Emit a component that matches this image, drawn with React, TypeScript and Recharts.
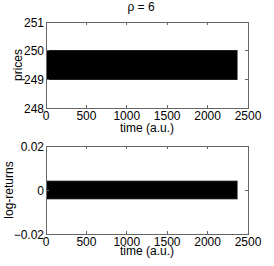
import { Area, AreaChart, Label, ReferenceArea, XAxis, YAxis } from 'recharts';

const TIME = [0, 2370];
const PRICE_LOW = [249, 249];
const PRICE_HIGH = [250, 250];
const RETURN_LOW = [-0.004, -0.004];
const RETURN_HIGH = [0.004, 0.004];

const TIME_TICKS = [0, 500, 1000, 1500, 2000, 2500];
const PRICE_TICKS = [248, 249, 250, 251];
const RETURN_TICKS = [-0.02, 0, 0.02];

const FONT = '"Liberation Sans", Arial, Helvetica, sans-serif';
const AXIS = '#666';
const W = 274;
const LEFT = 46;
const RIGHT = 26;
const PLOT_W = W - LEFT - RIGHT;

const priceData = TIME.map((t, i) => ({ t, band: [PRICE_LOW[i], PRICE_HIGH[i]] }));
const returnData = TIME.map((t, i) => ({ t, band: [RETURN_LOW[i], RETURN_HIGH[i]] }));

const fmt = (v: number) => String(v).replace('-', '\u2212');

// tick marks point inward, on both the bottom and the top edge of the box
const makeBottomTick = (plotH: number) => ({ x, y, payload }: any) => (
  <g>
    <line x1={x} x2={x} y1={y} y2={y - 3} stroke={AXIS} shapeRendering="crispEdges" />
    <line x1={x} x2={x} y1={y - plotH} y2={y - plotH + 3} stroke={AXIS} shapeRendering="crispEdges" />
    <text x={x} y={y + 12} textAnchor="middle" fontSize={12} fontFamily={FONT} fill="#000">
      {fmt(payload.value)}
    </text>
  </g>
);

const LeftTick = ({ x, y, payload }: any) => (
  <g>
    <line x1={x} x2={x + 3} y1={y} y2={y} stroke={AXIS} shapeRendering="crispEdges" />
    <line x1={x + PLOT_W} x2={x + PLOT_W - 3} y1={y} y2={y} stroke={AXIS} shapeRendering="crispEdges" />
    <text x={x - 2} y={y + 4.5} textAnchor="end" fontSize={12} fontFamily={FONT} fill="#000">
      {fmt(payload.value)}
    </text>
  </g>
);

type PanelProps = {
  data: { t: number; band: number[] }[];
  height: number;
  top: number;
  xAxisHeight: number;
  domain: [number, number];
  ticks: number[];
  yLabel: string;
  yLabelX: number;
  xLabelBaseline: number;
};

const Panel = ({ data, height, top, xAxisHeight, domain, ticks, yLabel, yLabelX, xLabelBaseline }: PanelProps) => {
  const plotH = height - top - xAxisHeight;
  const BottomTick = makeBottomTick(plotH);
  return (
    <AreaChart width={W} height={height} data={data} margin={{ top, right: RIGHT, left: 0, bottom: 0 }}>
      <XAxis
        dataKey="t"
        type="number"
        domain={[0, 2500]}
        ticks={TIME_TICKS}
        height={xAxisHeight}
        tickSize={0}
        tickMargin={0}
        tickLine={false}
        tick={<BottomTick />}
        axisLine={false}
        interval={0}
      >
        <Label
          content={({ viewBox }: any) => (
            <text
              x={viewBox.x + viewBox.width / 2}
              y={viewBox.y + xLabelBaseline}
              textAnchor="middle"
              fontSize={12}
              fontFamily={FONT}
              fill="#000"
            >
              time (a.u.)
            </text>
          )}
        />
      </XAxis>
      <YAxis
        type="number"
        domain={domain}
        ticks={ticks}
        width={LEFT}
        tickSize={0}
        tickMargin={0}
        tickLine={false}
        tick={<LeftTick />}
        axisLine={false}
        interval={0}
      >
        <Label
          content={({ viewBox }: any) => (
            <text
              transform={`translate(${yLabelX}, ${viewBox.y + viewBox.height / 2}) rotate(-90)`}
              textAnchor="middle"
              fontSize={12}
              fontFamily={FONT}
              fill="#000"
            >
              {yLabel}
            </text>
          )}
        />
      </YAxis>
      <Area
        type="linear"
        dataKey="band"
        fill="#000"
        fillOpacity={1}
        stroke="#000"
        strokeWidth={1}
        isAnimationActive={false}
      />
      <ReferenceArea
        x1={0}
        x2={2500}
        y1={domain[0]}
        y2={domain[1]}
        fill="none"
        fillOpacity={0}
        stroke={AXIS}
        strokeOpacity={1}
        strokeWidth={1}
        shapeRendering="crispEdges"
      />
    </AreaChart>
  );
};

const App = () => (
  <div style={{ position: 'absolute', left: 0, top: 0, width: W, height: 266, background: '#fff' }}>
    <div
      style={{
        position: 'absolute',
        left: 111,
        width: 60,
        top: 1,
        textAlign: 'center',
        fontFamily: FONT,
        fontSize: 12,
        lineHeight: '12px',
      }}
    >
      ρ = 6
    </div>
    <Panel
      data={priceData}
      height={135}
      top={22}
      xAxisHeight={27}
      domain={[248, 251]}
      ticks={PRICE_TICKS}
      yLabel="prices"
      yLabelX={22}
      xLabelBaseline={24}
    />
    <Panel
      data={returnData}
      height={131}
      top={11}
      xAxisHeight={32}
      domain={[-0.02, 0.02]}
      ticks={RETURN_TICKS}
      yLabel="log-returns"
      yLabelX={13}
      xLabelBaseline={21}
    />
  </div>
);

export default App;
